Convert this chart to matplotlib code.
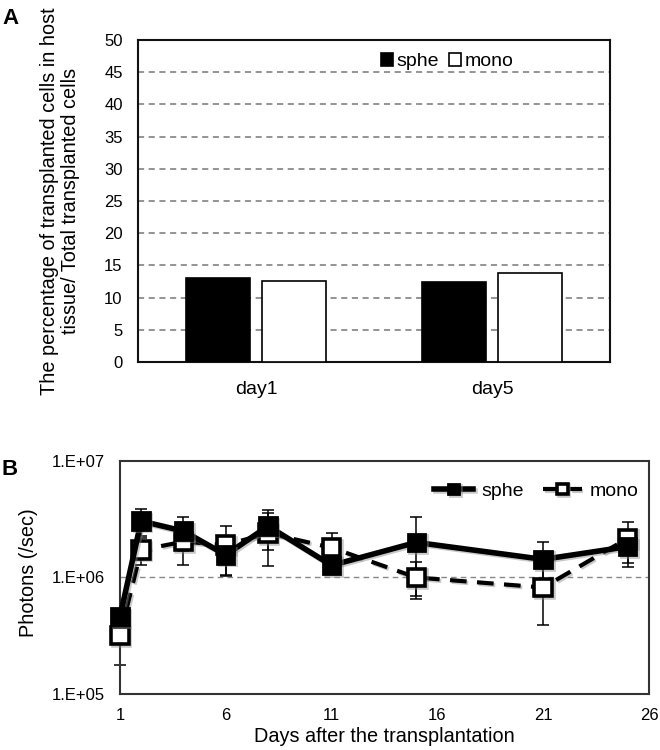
import matplotlib
matplotlib.use("Agg")
import matplotlib.pyplot as plt
from matplotlib.ticker import FixedLocator, FixedFormatter
import matplotlib.patheffects as pe

plt.rcParams['font.family'] = ['Liberation Sans', 'DejaVu Sans']

# ---------------- Panel A data ----------------
categories_a = ["day1", "day5"]
sphe_pct = [13.0, 12.4]
mono_pct = [12.6, 13.9]
yticks_a = [0, 5, 10, 15, 20, 25, 30, 35, 40, 45, 50]

# ---------------- Panel B data ----------------
days = [1, 2, 4, 6, 8, 11, 15, 21, 25]
sphe_ph = [4.6e5, 3.05e6, 2.5e6, 1.56e6, 2.76e6, 1.27e6, 2.0e6, 1.43e6, 1.84e6]
sphe_err = [0.05e6, 0.8e6, 0.8e6, 0.5e6, 1.05e6, 0.2e6, 1.3e6, 0.6e6, 0.62e6]
mono_ph = [3.18e5, 1.72e6, 2.03e6, 1.9e6, 2.4e6, 1.8e6, 1.0e6, 8.2e5, 2.17e6]
mono_err = [0.14e6, 0.45e6, 0.75e6, 0.88e6, 1.15e6, 0.6e6, 0.35e6, 0.43e6, 0.85e6]
xticks_b = [1, 6, 11, 16, 21, 26]
yticks_b = [1e5, 1e6, 1e7]
ytick_labels_b = ["1.E+05", "1.E+06", "1.E+07"]

fig = plt.figure(figsize=(6.6, 7.5), dpi=100)

# ================= Panel A =================
axA = fig.add_axes([0.2091, 0.5173, 0.7152, 0.4293])
x = list(range(len(categories_a)))
w = 0.27
off = 0.162
axA.bar([i - off for i in x], sphe_pct, width=w, color='black', edgecolor='black',
        linewidth=1.2, label='sphe', zorder=3)
axA.bar([i + off for i in x], mono_pct, width=w, color='white', edgecolor='black',
        linewidth=1.2, label='mono', zorder=3)
axA.set_xlim(-0.5, 1.5)
axA.set_ylim(0, 50)
axA.set_yticks(yticks_a)
axA.set_xticks(x)
axA.set_xticklabels(categories_a, fontsize=14)
axA.tick_params(axis='y', length=0, pad=11, labelsize=12)
axA.tick_params(axis='x', length=0, pad=14)
axA.set_axisbelow(True)
axA.yaxis.grid(True, linestyle=(0, (4, 3)), color='#777777', linewidth=1.1)
for s in axA.spines.values():
    s.set_linewidth(1.5)
    s.set_color('#111111')
axA.set_ylabel("The percentage of transplanted cells in host\ntissue/ Total transplanted cells",
               fontsize=14.3, linespacing=1.15)
axA.yaxis.set_label_coords(-0.123, 0.5)
axA.legend(loc='center left', bbox_to_anchor=(0.515, 0.932), ncol=2, frameon=False,
           fontsize=14, handlelength=0.6, handleheight=0.6, handletextpad=0.2,
           columnspacing=0.5, borderpad=0, borderaxespad=0)
fig.text(0.004, 0.99, "A", fontsize=16, fontweight='bold', va='top', ha='left')

# ================= Panel B =================
axB = fig.add_axes([0.1818, 0.0747, 0.8015, 0.3107])
axB.set_yscale('log')
axB.set_xlim(1, 26)
axB.set_ylim(1e5, 1e7)

shadow = [pe.SimpleLineShadow(offset=(1.2, -1.2), shadow_color='#888888', alpha=0.45), pe.Normal()]

axB.errorbar(days, mono_ph, yerr=mono_err, fmt='none', ecolor='black', elinewidth=1.1,
             capsize=4, capthick=1.1, clip_on=False, zorder=2)
axB.errorbar(days, sphe_ph, yerr=sphe_err, fmt='none', ecolor='black', elinewidth=1.1,
             capsize=4, capthick=1.1, clip_on=False, zorder=2)
l_mono, = axB.plot(days, mono_ph, linestyle=(0, (4, 2.5)), color='black', linewidth=3.0,
                   marker='s', markersize=12.5, markerfacecolor='white', markeredgecolor='black',
                   markeredgewidth=2.6, clip_on=False, zorder=3, label='mono',
                   path_effects=shadow)
l_sphe, = axB.plot(days, sphe_ph, linestyle='-', color='black', linewidth=4.0,
                   marker='s', markersize=12.5, markerfacecolor='black', markeredgecolor='black',
                   markeredgewidth=2.0, clip_on=False, zorder=4, label='sphe',
                   path_effects=shadow)

axB.yaxis.set_major_locator(FixedLocator(yticks_b))
axB.yaxis.set_major_formatter(FixedFormatter(ytick_labels_b))
axB.yaxis.set_minor_locator(FixedLocator([]))
axB.set_xticks(xticks_b)
axB.tick_params(axis='both', length=0, labelsize=12)
axB.tick_params(axis='y', pad=11)
axB.tick_params(axis='x', pad=10)
axB.axhline(1e6, linestyle=(0, (4, 3)), color='#888888', linewidth=1.0, zorder=1)
for s in axB.spines.values():
    s.set_linewidth(1.5)
    s.set_color('#333333')
axB.set_ylabel("Photons (/sec)", fontsize=14.3)
axB.yaxis.set_label_coords(-0.155, 0.52)
axB.set_xlabel("Days after the transplantation", fontsize=14.3)
axB.xaxis.set_label_coords(0.5, -0.14)

axB.legend(handles=[l_sphe, l_mono], loc='center right', bbox_to_anchor=(0.98, 0.871),
           ncol=2, frameon=False, fontsize=14, handlelength=2.0, handletextpad=0.4,
           columnspacing=1.0, borderpad=0, borderaxespad=0, markerscale=0.6)
fig.text(0.003, 0.388, "B", fontsize=16, fontweight='bold', va='top', ha='left')

fig.savefig("out.png", dpi=100)
